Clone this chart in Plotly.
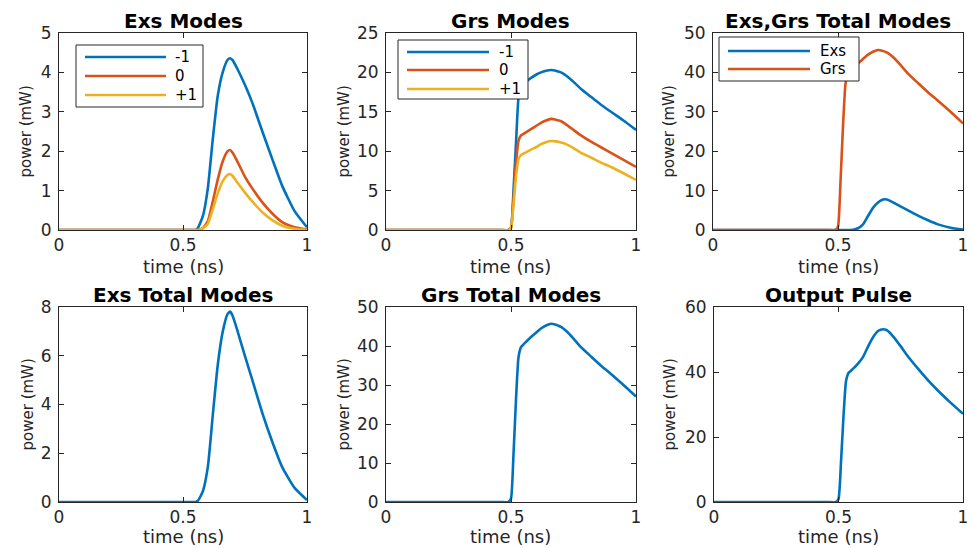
import plotly.graph_objects as go
import numpy as np

# ---------------- data ----------------
time_ns = [0, 0.45, 0.49, 0.50, 0.51, 0.52, 0.53, 0.54, 0.55, 0.56, 0.58, 0.60, 0.62,
           0.64, 0.66, 0.68, 0.69, 0.70, 0.72, 0.75, 0.78, 0.82, 0.86, 0.90, 0.95, 1.0]

exs_m1 = [0, 0, 0, 0, 0, 0, 0, 0, 0, 0.05, 0.35, 1.05, 2.30,
          3.40, 4.00, 4.32, 4.36, 4.31, 4.08, 3.68, 3.22, 2.50, 1.80, 1.12, 0.48, 0.07]
exs_0 = [0, 0, 0, 0, 0, 0, 0, 0, 0, 0.0, 0.05, 0.22, 0.72,
         1.28, 1.74, 2.00, 2.03, 1.96, 1.73, 1.35, 1.05, 0.70, 0.42, 0.20, 0.07, 0.01]
exs_p1 = [0, 0, 0, 0, 0, 0, 0, 0, 0, 0.0, 0.04, 0.16, 0.53,
          0.93, 1.24, 1.40, 1.42, 1.37, 1.20, 0.95, 0.72, 0.45, 0.25, 0.11, 0.03, 0.0]

grs_m1 = [0, 0, 0, 0.3, 5.0, 11.0, 16.8, 18.2, 18.5, 18.8, 19.3, 19.7, 20.0,
          20.2, 20.3, 20.2, 20.1, 20.0, 19.6, 18.8, 17.9, 16.9, 15.9, 15.0, 13.9, 12.7]
grs_0 = [0, 0, 0, 0.3, 4.0, 8.5, 11.3, 12.0, 12.2, 12.4, 12.8, 13.2, 13.6,
         13.9, 14.1, 14.0, 13.9, 13.8, 13.4, 12.7, 12.0, 11.2, 10.5, 9.8, 8.9, 8.0]
grs_p1 = [0, 0, 0, 0.3, 3.2, 6.8, 9.0, 9.5, 9.7, 9.85, 10.2, 10.5, 10.9,
          11.15, 11.3, 11.25, 11.2, 11.1, 10.9, 10.4, 9.8, 9.2, 8.55, 8.0, 7.2, 6.35]

mode_labels = ["-1", "0", "+1"]
total_labels = ["Exs", "Grs"]
titles = ["Exs Modes", "Grs Modes", "Exs,Grs Total Modes",
          "Exs Total Modes", "Grs Total Modes", "Output Pulse"]
y_max = [5, 25, 50, 8, 50, 60]
y_step = [1, 5, 10, 2, 10, 20]
x_ticks = [0, 0.5, 1]
x_ticktext = ["0", "0.5", "1"]
x_label = "time (ns)"
y_label = "power (mW)"

# totals are the sums of the modes shown in the upper panels
exs_total = list(np.array(exs_m1) + np.array(exs_0) + np.array(exs_p1))
grs_total = list(np.array(grs_m1) + np.array(grs_0) + np.array(grs_p1))
output_pulse = list(np.array(exs_total) + np.array(grs_total))

# ---------------- style ----------------
W, H = 972, 548
C = ["#0072BD", "#D95319", "#EDB120"]
AX = "#262626"
FONT = "DejaVu Sans"
LW = 2.6

# axes boxes in pixels: (left, right, top, bottom)
boxes = [(59, 307, 33, 230), (386, 636, 33, 230), (713, 963, 33, 230),
         (59, 307, 307, 502), (386, 636, 307, 502), (714, 963, 307, 502)]
ylabel_x = [25, 343, 668, 27, 343, 669]
xlabel_gap = [36, 36, 36, 34, 34, 34]

fig = go.Figure()


def add(idx, y, name, color):
    n = "" if idx == 0 else str(idx + 1)
    fig.add_trace(go.Scatter(
        x=time_ns, y=y, mode="lines", name=name,
        line=dict(color=color, width=LW, shape="spline", smoothing=0.5),
        xaxis="x" + n, yaxis="y" + n, showlegend=False))


for y, lab, c in zip([exs_m1, exs_0, exs_p1], mode_labels, C):
    add(0, y, lab, c)
for y, lab, c in zip([grs_m1, grs_0, grs_p1], mode_labels, C):
    add(1, y, lab, c)
add(2, exs_total, total_labels[0], C[0])
add(2, grs_total, total_labels[1], C[1])
add(3, exs_total, "Exs", C[0])
add(4, grs_total, "Grs", C[0])
add(5, output_pulse, "Output", C[0])

layout = dict(template="none", width=W, height=H,
              margin=dict(l=0, r=0, t=0, b=0, autoexpand=False),
              paper_bgcolor="white", plot_bgcolor="white", showlegend=False,
              font=dict(family=FONT, color=AX, size=17))
annotations = []
shapes = []
for i, (l, r, t, b) in enumerate(boxes):
    n = "" if i == 0 else str(i + 1)
    common = dict(showline=True, linecolor=AX, linewidth=1, mirror="ticks",
                  ticks="inside", ticklen=5, tickcolor=AX, tickwidth=1,
                  showgrid=False, zeroline=False, automargin=False,
                  tickfont=dict(family=FONT, size=17, color=AX))
    layout["xaxis" + n] = dict(domain=[l / W, r / W], range=[0, 1],
                               tickvals=x_ticks, ticktext=x_ticktext,
                               anchor="y" + n, ticklabelstandoff=0, **common)
    layout["yaxis" + n] = dict(domain=[1 - b / H, 1 - t / H], range=[0, y_max[i]],
                               tickmode="linear", tick0=0, dtick=y_step[i],
                               anchor="x" + n, ticklabelstandoff=3, **common)
    cx = (l + r) / 2 / W
    annotations.append(dict(text="<b>" + titles[i] + "</b>", x=cx, y=1 - (t - 12) / H,
                            xref="paper", yref="paper", showarrow=False,
                            xanchor="center", yanchor="middle",
                            font=dict(family=FONT, size=20, color="black")))
    annotations.append(dict(text=x_label, x=cx, y=1 - (b + xlabel_gap[i]) / H,
                            xref="paper", yref="paper", showarrow=False,
                            xanchor="center", yanchor="middle",
                            font=dict(family=FONT, size=18, color=AX)))
    annotations.append(dict(text=y_label, x=ylabel_x[i] / W, y=1 - (t + b) / 2 / H,
                            xref="paper", yref="paper", showarrow=False, textangle=-90,
                            xanchor="center", yanchor="middle",
                            font=dict(family=FONT, size=15, color=AX)))

# legend boxes drawn as in the reference (long line samples, tight rows)
legends = [
    dict(box=(76, 203, 45, 107), line=(85, 166), text_x=173, rows=[57, 76, 95],
         labels=mode_labels, colors=C),
    dict(box=(398, 528, 40, 99), line=(407, 489), text_x=497, rows=[52, 70, 89],
         labels=mode_labels, colors=C),
    dict(box=(719, 859, 37, 81), line=(728, 810), text_x=818, rows=[51, 69],
         labels=total_labels, colors=C[:2]),
]
for lg in legends:
    x0, x1, y0, y1 = lg["box"]
    shapes.append(dict(type="rect", xref="paper", yref="paper",
                       x0=x0 / W, x1=x1 / W, y0=1 - y0 / H, y1=1 - y1 / H,
                       line=dict(color=AX, width=1), fillcolor="white", layer="above"))
    for ry, lab, col in zip(lg["rows"], lg["labels"], lg["colors"]):
        shapes.append(dict(type="line", xref="paper", yref="paper",
                           x0=lg["line"][0] / W, x1=lg["line"][1] / W,
                           y0=1 - ry / H, y1=1 - ry / H,
                           line=dict(color=col, width=LW), layer="above"))
        annotations.append(dict(text=lab, x=lg["text_x"] / W, y=1 - ry / H,
                                xref="paper", yref="paper", showarrow=False,
                                xanchor="left", yanchor="middle",
                                font=dict(family=FONT, size=15, color="black")))

layout["annotations"] = annotations
layout["shapes"] = shapes
fig.update_layout(**layout)
fig.write_html("out.html", config={"displayModeBar": False},
               post_script="document.body.style.margin='0px';"
                           "document.body.style.overflow='hidden';")
